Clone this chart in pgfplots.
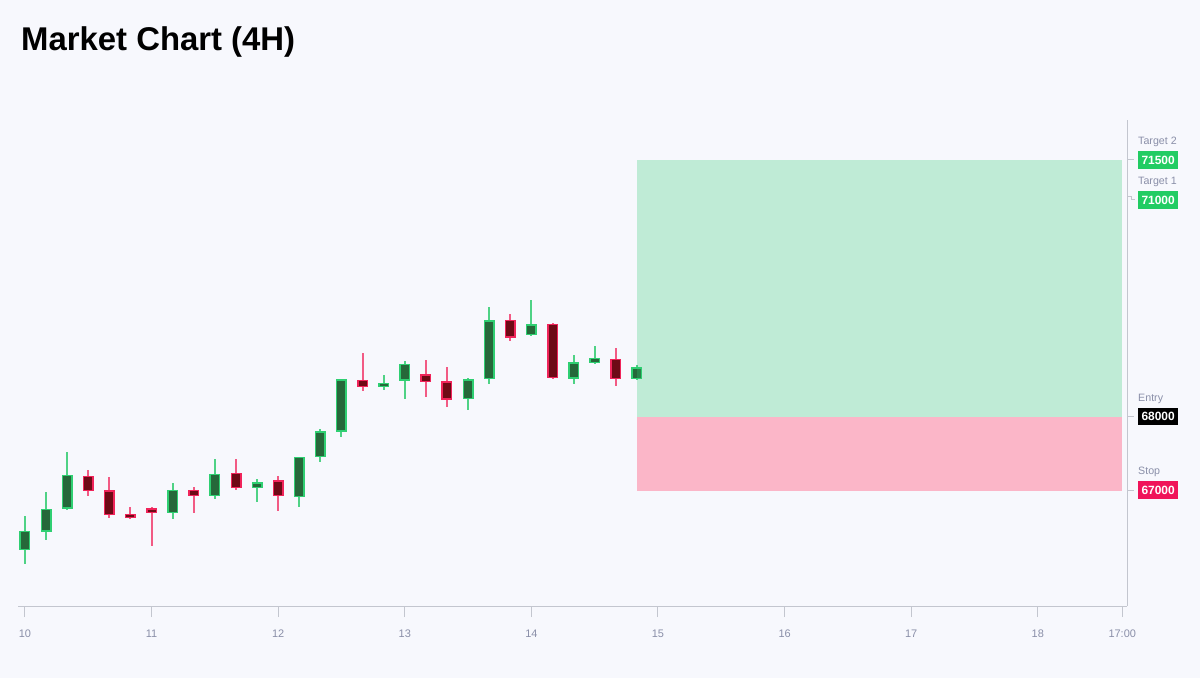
\documentclass[border=0pt]{standalone}
\usepackage{pgfplots}
\pgfplotsset{compat=1.18}
\usepackage{pgfplotstable}
\usepackage{fontspec}
\setmainfont{Liberation Sans}
\definecolor{bg}{HTML}{F7F8FD}
\definecolor{axiscol}{HTML}{C3C6CF}
\definecolor{tickcol}{HTML}{8A8FA8}
\definecolor{gfill}{HTML}{26683A}
\definecolor{gborder}{HTML}{2FCF72}
\definecolor{gwick}{HTML}{4FD285}
\definecolor{rfill}{HTML}{6E0A16}
\definecolor{rborder}{HTML}{F0245A}
\definecolor{rwick}{HTML}{F25A84}
\definecolor{zgreen}{HTML}{2ECC71}
\definecolor{zpink}{HTML}{FBB6C8}
\definecolor{boxgreen}{HTML}{22CC63}
\definecolor{boxred}{HTML}{F0145A}

% x = day (4H candles), open, high, low, close
\pgfplotstableread{
x o h l c
10.000 66200 66660 66010 66460
10.167 66450 66990 66340 66760
10.333 66760 67530 66750 67220
11.167 66700 67110 66620 67020
11.500 66930 67440 66890 67240
11.833 67040 67170 66850 67120
12.167 66920 67470 66790 67470
12.333 67460 67840 67400 67810
12.500 67810 68530 67740 68520
12.833 68420 68580 68370 68470
13.000 68500 68770 68250 68730
13.500 68250 68540 68100 68520
13.667 68520 69500 68460 69320
14.000 69120 69600 69100 69270
14.333 68530 68850 68460 68750
14.500 68740 68970 68720 68810
14.833 68520 68710 68510 68680
}\greendata

\pgfplotstableread{
x o h l c
10.500 67210 67290 66940 67000
10.667 67010 67190 66630 66670
10.833 66690 66790 66620 66630
11.000 66770 66780 66260 66700
11.333 67020 67060 66700 66930
11.667 67250 67430 67010 67040
12.000 67150 67210 66730 66930
12.667 68510 68870 68360 68410
13.167 68590 68780 68280 68480
13.333 68490 68680 68150 68240
13.833 69330 69400 69040 69080
14.167 69270 69280 68520 68530
14.667 68800 68950 68430 68520
}\reddata

\pgfplotsset{candle/.style={draw=none, mark=none, forget plot,
  error bars/.cd, y dir=both, y explicit, error mark=none,
  error bar style={line width=#1}}}

\begin{document}
\begin{tikzpicture}
\fill[bg] (0bp,0bp) rectangle (1200bp,678bp);
\node[anchor=base west, inner sep=0pt, font=\bfseries\fontsize{33}{33}\selectfont] at (21bp,627bp) {Market Chart (4H)};

\begin{axis}[
  at={(18bp,72bp)}, anchor=south west,
  scale only axis, width=1109bp, height=486bp,
  xmin=9.945, xmax=18.705, ymin=65440, ymax=72040,
  axis x line*=bottom, axis y line*=right,
  axis line style={draw=axiscol, line width=1bp},
  xtick={10,11,12,13,14,15,16,17,18,18.667},
  xticklabels={10,11,12,13,14,15,16,17,18,17:00},
  ytick=\empty,
  tick align=outside, major tick length=11bp,
  xtick style={draw=axiscol, line width=1bp},
  /pgf/number format/assume math mode=true,
  xticklabel style={font=\fontsize{11}{11}\selectfont, text=tickcol, yshift=-9bp},
  clip=false,
]
% wicks
\addplot[candle=2bp, error bar style={draw=gwick, color=gwick}]
  table[x=x, y expr=(\thisrow{h}+\thisrow{l})/2, y error expr=(\thisrow{h}-\thisrow{l})/2] {\greendata};
\addplot[candle=2bp, error bar style={draw=rwick, color=rwick}]
  table[x=x, y expr=(\thisrow{h}+\thisrow{l})/2, y error expr=(\thisrow{h}-\thisrow{l})/2] {\reddata};
% body borders
\addplot[candle=11bp, error bar style={draw=gborder}]
  table[x=x, y expr=(\thisrow{o}+\thisrow{c})/2, y error expr={max(abs(\thisrow{c}-\thisrow{o})/2,28)}] {\greendata};
\addplot[candle=11bp, error bar style={draw=rborder}]
  table[x=x, y expr=(\thisrow{o}+\thisrow{c})/2, y error expr={max(abs(\thisrow{c}-\thisrow{o})/2,28)}] {\reddata};
% body fills
\addplot[candle=8bp, error bar style={draw=gfill}]
  table[x=x, y expr=(\thisrow{o}+\thisrow{c})/2, y error expr={max(abs(\thisrow{c}-\thisrow{o})/2-20,8)}] {\greendata};
\addplot[candle=8bp, error bar style={draw=rfill}]
  table[x=x, y expr=(\thisrow{o}+\thisrow{c})/2, y error expr={max(abs(\thisrow{c}-\thisrow{o})/2-20,8)}] {\reddata};
% zones
\addplot[draw=none, fill=zgreen, fill opacity=0.28] coordinates {(14.833,68000) (14.833,71500) (18.667,71500) (18.667,68000)} -- cycle;
\addplot[draw=none, fill=zpink] coordinates {(14.833,67000) (14.833,68000) (18.667,68000) (18.667,67000)} -- cycle;
\end{axis}

% right-axis ticks
\draw[axiscol, line width=1bp] (1127bp,518bp) -- (1134bp,518bp);
\draw[axiscol, line width=1bp] (1127bp,481bp) -- (1131bp,481bp) -- (1131bp,478bp) -- (1135bp,478bp);
\draw[axiscol, line width=1bp] (1127bp,261bp) -- (1134bp,261bp);
\draw[axiscol, line width=1bp] (1127bp,187bp) -- (1134bp,187bp);

% right labels
\tikzset{lbl/.style={anchor=west, inner sep=0pt, text=tickcol, font=\fontsize{10.7}{10.7}\selectfont},
         pbox/.style={anchor=west, inner xsep=3.3bp, inner ysep=0pt, minimum height=17.6bp, text=white, font=\bfseries\fontsize{12}{12}\selectfont}}
\node[lbl] at (1138bp,536.3bp) {Target 2};
\node[pbox, fill=boxgreen] at (1138bp,518bp) {71500};
\node[lbl] at (1138bp,496.3bp) {Target 1};
\node[pbox, fill=boxgreen] at (1138bp,478bp) {71000};
\node[lbl] at (1138bp,279bp) {Entry};
\node[pbox, fill=black] at (1138bp,261.3bp) {68000};
\node[lbl] at (1138bp,205.7bp) {Stop};
\node[pbox, fill=boxred] at (1138bp,188bp) {67000};
\end{tikzpicture}
\end{document}
